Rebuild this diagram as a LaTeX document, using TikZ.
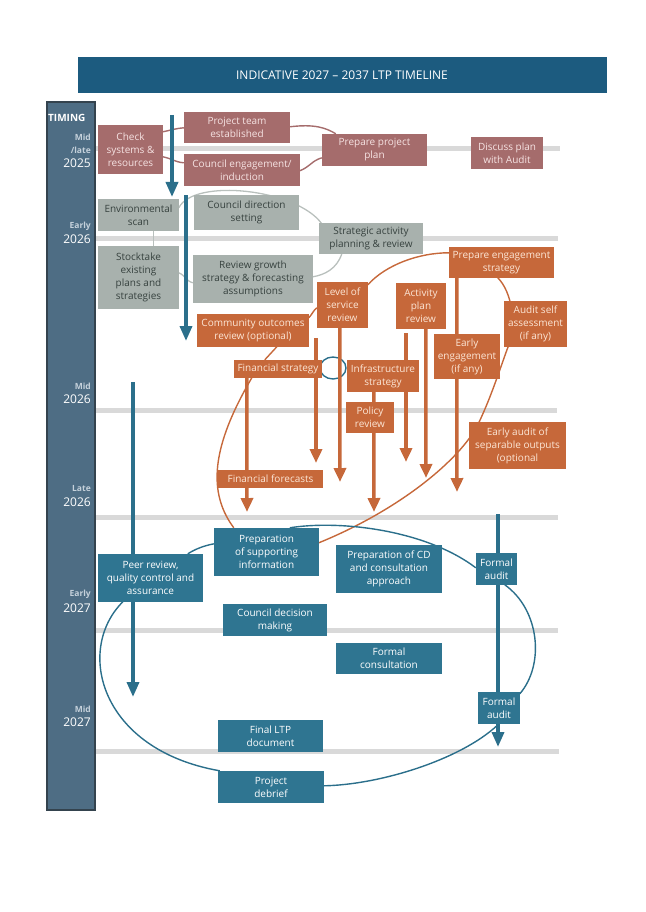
\documentclass[tikz,border=0pt]{standalone}
\usepackage{fontspec}
\setmainfont{Open Sans}
\usepackage{tikz}
\usetikzlibrary{arrows.meta,backgrounds}
\definecolor{titleblue}{HTML}{1C5B7F}
\definecolor{timingcol}{HTML}{4E6D84}
\definecolor{timingedge}{HTML}{34434E}
\definecolor{timinglight}{HTML}{C5D1DB}
\definecolor{mauve}{HTML}{A56C6C}
\definecolor{mauvetext}{HTML}{F6E3E3}
\definecolor{greybox}{HTML}{A8B1AD}
\definecolor{greytext}{HTML}{37423F}
\definecolor{greyline}{HTML}{B9C0BD}
\definecolor{orangebox}{HTML}{C6683A}
\definecolor{orangetext}{HTML}{FCE6D6}
\definecolor{tealbox}{HTML}{2F7591}
\definecolor{tealline}{HTML}{2B6F8B}
\definecolor{bandgrey}{HTML}{D9D9D9}
\tikzstyle{box}       = [rectangle, inner sep=1pt, align=center, font=\fontsize{10}{13}\selectfont]
\tikzstyle{mauvebox}  = [box, fill=mauve, text=mauvetext]
\tikzstyle{greyboxst} = [box, fill=greybox, text=greytext]
\tikzstyle{orangebx}  = [box, fill=orangebox, text=orangetext]
\tikzstyle{tealbx}    = [box, fill=tealbox, text=white]
\tikzstyle{band}      = [line width=5pt, bandgrey]
\tikzstyle{mauveline} = [line width=1.4pt, mauve]
\tikzstyle{greyln}    = [line width=1.3pt, greyline]
\tikzstyle{orangeln}  = [line width=1.4pt, orangebox]
\tikzstyle{tealln}    = [line width=1.4pt, tealline]
\tikzstyle{tealarrow} = [line width=3.5pt, tealline, -{Triangle[width=12pt,length=15pt]}]
\tikzstyle{orarrow}   = [line width=3.5pt, orangebox, -{Triangle[width=12pt,length=14pt]}]
\tikzstyle{small}     = [anchor=east, inner sep=0pt, text=timinglight, font=\bfseries\fontsize{8.5}{10}\selectfont]
\tikzstyle{year}      = [anchor=east, inner sep=0pt, text=white, font=\fontsize{12}{12}\selectfont]

\begin{document}
\begin{tikzpicture}[x=1pt,y=-1pt]
        \useasboundingbox (0,0) rectangle (645,912);
        \fill[titleblue] (78,57) rectangle (607,93);
        \node[text=white, font=\fontsize{12}{14}\selectfont] (title) at (342,75) {INDICATIVE 2027 -- 2037 LTP TIMELINE};

        \draw[timingedge, line width=1.5pt, fill=timingcol] (47,102) rectangle (95,810);
        \node[anchor=west, inner sep=0pt, text=white, font=\bfseries\fontsize{10}{12}\selectfont] (timing) at (48,118) {TIMING};
        \node[small] (m25) at (91,137) {Mid};
        \node[small] (l25) at (91,150) {/late};
        \node[year] (y25) at (91,163) {2025};
        \node[small] (e26) at (91,226) {Early};
        \node[year] (y26a) at (91,239) {2026};
        \node[small] (m26) at (91,386) {Mid};
        \node[year] (y26b) at (91,399) {2026};
        \node[small] (l26) at (91,489) {Late};
        \node[year] (y26c) at (91,502) {2026};
        \node[small] (e27) at (91,594) {Early};
        \node[year] (y27a) at (91,608) {2027};
        \node[small] (m27) at (91,709) {Mid};
        \node[year] (y27b) at (91,722) {2027};

        \node[mauvebox, minimum width=65pt, minimum height=49pt] (check) at (130.5,149.5) {Check\\systems \&\\resources};
        \node[mauvebox, minimum width=106pt, minimum height=31pt] (team) at (237,127.5) {Project team\\established};
        \node[mauvebox, minimum width=116pt, minimum height=32pt] (engage) at (242,170) {Council engagement/\\induction};
        \node[mauvebox, minimum width=105pt, minimum height=32pt] (prepplan) at (374.5,150) {Prepare project\\plan};
        \node[mauvebox, minimum width=72pt, minimum height=32pt] (audit) at (507,153) {Discuss plan\\with Audit};

        \node[greyboxst, minimum width=81pt, minimum height=32pt] (envscan) at (138.5,215) {Environmental\\scan};
        \node[greyboxst, minimum width=105pt, minimum height=35pt] (direction) at (246.5,212.5) {Council direction\\setting};
        \node[greyboxst, minimum width=104pt, minimum height=31pt] (strategic) at (371,238.5) {Strategic activity\\planning \& review};
        \node[greyboxst, minimum width=81pt, minimum height=63pt] (stocktake) at (138.5,277.5) {Stocktake\\existing\\plans and\\strategies};
        \node[greyboxst, minimum width=120pt, minimum height=48pt] (growth) at (253,279) {Review growth\\strategy \& forecasting\\assumptions};

        \node[orangebx, minimum width=105pt, minimum height=31pt] (engstrat) at (501.5,262.5) {Prepare engagement\\strategy};
        \node[orangebx, minimum width=51pt, minimum height=46pt] (los) at (342.5,305) {Level of\\service\\review};
        \node[orangebx, minimum width=50pt, minimum height=46pt] (actplan) at (421,306) {Activity\\plan\\review};
        \node[orangebx, minimum width=63pt, minimum height=46pt] (selfaudit) at (535.5,324) {Audit self\\assessment\\(if any)};
        \node[orangebx, minimum width=66pt, minimum height=45pt] (earlyeng) at (467,356.5) {Early\\engagement\\(if any)};
        \node[orangebx, minimum width=72pt, minimum height=32pt] (infra) at (383,376) {Infrastructure\\strategy};
        \node[orangebx, minimum width=48pt, minimum height=31pt] (policy) at (370,417.5) {Policy\\review};
        \node[orangebx, minimum width=97pt, minimum height=47pt] (earlyaudit) at (517.5,445.5) {Early audit of\\separable outputs\\(optional};
        \node[orangebx, minimum width=112pt, minimum height=33pt] (community) at (253,330.5) {Community outcomes\\review (optional)};
        \node[orangebx, minimum width=88pt, minimum height=18pt] (finstrat) at (278,369) {Financial strategy};
        \node[orangebx, minimum width=105pt, minimum height=18pt] (finfore) at (270.5,479) {Financial forecasts};

        \node[tealbx, minimum width=105pt, minimum height=48pt] (prepsup) at (266.5,552) {Preparation\\of supporting\\information};
        \node[tealbx, minimum width=105pt, minimum height=48pt] (peer) at (150.5,578) {Peer review,\\quality control and\\assurance};
        \node[tealbx, minimum width=106pt, minimum height=48pt] (prepcd) at (389,569) {Preparation of CD\\and consultation\\approach};
        \node[tealbx, minimum width=41pt, minimum height=32pt] (faudita) at (496.5,569) {Formal\\audit};
        \node[tealbx, minimum width=104pt, minimum height=32pt] (decision) at (275,620) {Council decision\\making};
        \node[tealbx, minimum width=106pt, minimum height=31pt] (consult) at (389,658.5) {Formal\\consultation};
        \node[tealbx, minimum width=42pt, minimum height=32pt] (fauditb) at (499,708) {Formal\\audit};
        \node[tealbx, minimum width=105pt, minimum height=32pt] (final) at (270.5,736) {Final LTP\\document};
        \node[tealbx, minimum width=106pt, minimum height=32pt] (debrief) at (271,787) {Project\\debrief};

        \coordinate (tAs) at (172,115);
        \coordinate (tAe) at (172,197);
        \coordinate (tBs) at (186,195);
        \coordinate (tBe) at (186,341);
        \coordinate (tCs) at (133,382);
        \coordinate (tCe) at (133,697);
        \coordinate (tDs) at (498,514);
        \coordinate (tDe) at (498,747);
        \coordinate (oAe) at (247,512);
        \coordinate (oBs) at (316,338);
        \coordinate (oBe) at (316,463);
        \coordinate (oCe) at (340,482);
        \coordinate (oDe) at (374,512);
        \coordinate (oEs) at (406,333);
        \coordinate (oEe) at (406,462);
        \coordinate (oFe) at (426,478);
        \coordinate (oGe) at (457,492);

        \begin{scope}[on background layer]
        \draw[band] (95,149) -- (560,149);
        \draw[band] (95,238) -- (558,238);
        \draw[band] (95,410) -- (557,410);
        \draw[band] (95,517) -- (558,517);
        \draw[band] (95,630) -- (558,630);
        \draw[band] (95,751) -- (559,751);

        \draw[mauveline] ([shift={(65,7)}]check.north west) .. controls +(10,-2) and +(-10,1) .. ([shift={(0,16)}]team.north west);
        \draw[mauveline] ([shift={(65,32)}]check.north west) .. controls +(10,2) and +(-10,-1) .. ([shift={(0,9)}]engage.north west);
        \draw[mauveline] ([shift={(106,15)}]team.north west) .. controls +(25,-3) and +(-10,-6) .. ([shift={(14,0)}]prepplan.north west);
        \draw[mauveline] ([shift={(116,17)}]engage.north west) .. controls +(10,-4) and +(-10,3) .. ([shift={(0,24)}]prepplan.north west);

        \draw[greyln] ([shift={(56,32)}]envscan.north west) -- ([shift={(56,0)}]stocktake.north west);
        \draw[greyln] ([shift={(81,9)}]envscan.north west) .. controls +(15,-30) and +(-25,-35) .. ([shift={(3,1)}]strategic.north west);
        \draw[greyln] ([shift={(23,31)}]strategic.north west) .. controls +(-5,15) and +(12,-2) .. ([shift={(120,22)}]growth.north west);
        \draw[greyln] ([shift={(81,27)}]stocktake.north west) .. controls +(7,3) and +(-7,-2) .. ([shift={(0,28)}]growth.north west);

        \draw[orangeln] ([shift={(112,4)}]community.north west) .. controls +(3,-3) and +(-3,2) .. ([shift={(0,26)}]los.north west);
        \draw[orangeln] ([shift={(51,3)}]los.north west) .. controls +(18,-20) and +(-30,0) .. ([shift={(0,6)}]engstrat.north west);
        \draw[orangeln] ([shift={(49,31)}]engstrat.north west) .. controls +(14,14) and +(11,-25) .. ([shift={(3,3)}]selfaudit.south west)
                .. controls +(-10,28) and +(12,-25) .. ([shift={(9,3)}]earlyaudit.north west)
                .. controls +(-18,35) and +(81,-33) .. ([shift={(105,15)}]prepsup.north west);
        \draw[orangeln] ([shift={(80,33)}]community.north west) -- ([shift={(31,0)}]finstrat.north west);
        \draw[orangeln] ([shift={(18,18)}]finstrat.north west) .. controls +(-35,60) and +(-30,-40) .. ([shift={(20,0)}]prepsup.north west);

        \draw[tealln] (333,368) ellipse (13 and 11);

        \draw[tealln] ([shift={(90,0)}]peer.north west) .. controls +(8,-5) and +(-10,2) .. ([shift={(0,16)}]prepsup.north west);
        \draw[tealln] ([shift={(76,0)}]prepsup.north west) .. controls +(50,-8) and +(-50,-38) .. ([shift={(0,15)}]faudita.north west);
        \draw[tealln] ([shift={(29,32)}]faudita.north west) .. controls +(35,25) and +(25,-29) .. ([shift={(42,2)}]fauditb.north west);
        \draw[tealln] ([shift={(19,34)}]fauditb.north west) .. controls +(-37,34) and +(56,-1) .. ([shift={(106,15)}]debrief.north west);
        \draw[tealln] ([shift={(2,0)}]debrief.north west) .. controls +(-120,-21) and +(-48,48) .. ([shift={(25,48)}]peer.north west);

        \draw[tealarrow] (tAs) -- (tAe);
        \draw[tealarrow] (tBs) -- (tBe);
        \draw[tealarrow] (tCs) -- (tCe);
        \draw[tealarrow] (tDs) -- (tDe);

        \draw[orarrow] ([shift={(13,18)}]finstrat.north west) -- (oAe);
        \draw[orarrow] (oBs) -- (oBe);
        \draw[orarrow] ([shift={(23,46)}]los.north west) -- (oCe);
        \draw[orarrow] ([shift={(27,32)}]infra.north west) -- (oDe);
        \draw[orarrow] (oEs) -- (oEe);
        \draw[orarrow] ([shift={(30,46)}]actplan.north west) -- (oFe);
        \draw[orarrow] ([shift={(8,31)}]engstrat.north west) -- (oGe);
        \end{scope}
    \end{tikzpicture}
\end{document}
